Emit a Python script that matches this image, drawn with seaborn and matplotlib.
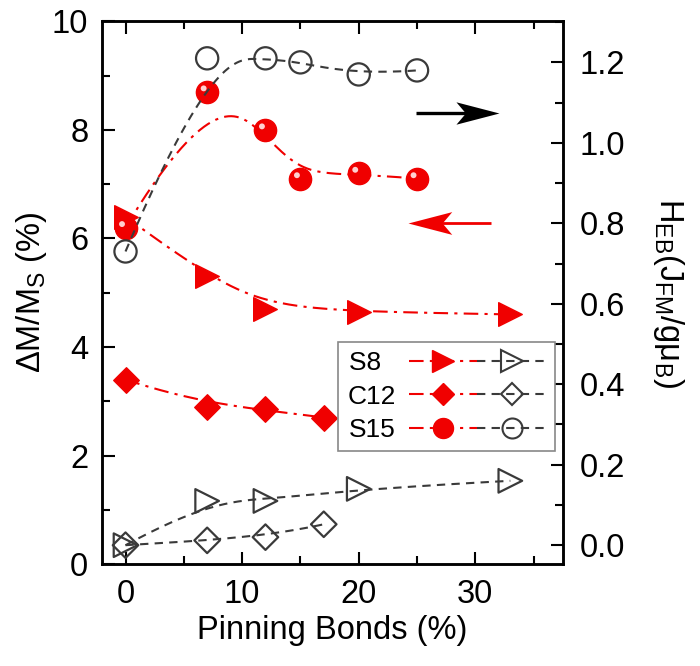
import numpy as np
import pandas as pd
import matplotlib
matplotlib.use("Agg")
import matplotlib.pyplot as plt
import matplotlib.transforms as mtransforms
from matplotlib.lines import Line2D
from matplotlib.path import Path
from matplotlib.legend_handler import HandlerTuple
from matplotlib.ticker import MultipleLocator
import seaborn as sns

# ---- data -------------------------------------------------------------
series_names = ["S8", "C12", "S15"]

s8_x = [0, 7, 12, 20, 33]
s8_dm = [6.4, 5.3, 4.7, 4.65, 4.6]
s8_heb = [0.0, 0.11, 0.11, 0.14, 0.16]

c12_x = [0, 7, 12, 17]
c12_dm = [3.4, 2.9, 2.85, 2.7]
c12_heb = [0.0, 0.012, 0.02, 0.052]

s15_x = [0, 7, 12, 15, 20, 25]
s15_dm = [6.2, 8.7, 8.0, 7.1, 7.2, 7.1]
s15_heb = [0.73, 1.21, 1.21, 1.20, 1.17, 1.18]

x_ticks = [0, 10, 20, 30]
left_ticks = [0, 2, 4, 6, 8, 10]
right_ticks = [0.0, 0.2, 0.4, 0.6, 0.8, 1.0, 1.2]

RED = "#f00000"
DARK = "#3a3a3a"
FS = 23.5

sns.set_theme(style="ticks")
plt.rcParams["font.family"] = ["Liberation Sans", "DejaVu Sans"]
plt.rcParams["mathtext.fontset"] = "custom"
plt.rcParams["mathtext.rm"] = "Liberation Sans"
for key in ("text.color", "axes.labelcolor", "xtick.color", "ytick.color",
            "axes.edgecolor"):
    plt.rcParams[key] = "black"


def bspline(xs, ys, degree=3, num=300):
    """Clamped B-spline curve using the data points as control points."""
    pts = np.column_stack([xs, ys]).astype(float)
    n = len(pts)
    p = min(degree, n - 1)
    knots = np.concatenate([np.zeros(p), np.linspace(0, 1, n - p + 1), np.ones(p)])
    t = np.linspace(0, 1, num)
    nb = len(knots) - 1
    N = np.zeros((num, nb))
    for i in range(nb):
        if knots[i] < knots[i + 1]:
            N[:, i] = (t >= knots[i]) & (t < knots[i + 1])
    last = max(i for i in range(nb) if knots[i] < knots[i + 1])
    N[t >= 1, last] = 1.0
    for d in range(1, p + 1):
        Nn = np.zeros((num, nb - d))
        for i in range(nb - d):
            a = knots[i + d] - knots[i]
            b = knots[i + d + 1] - knots[i + 1]
            term = np.zeros(num)
            if a > 0:
                term += (t - knots[i]) / a * N[:, i]
            if b > 0:
                term += (knots[i + d + 1] - t) / b * N[:, i + 1]
            Nn[:, i] = term
        N = Nn
    curve = N @ pts
    return pd.DataFrame({"x": curve[:, 0], "y": curve[:, 1]})


def stealth_head(direction):
    """Swept arrow head as a marker path with its tip at the origin."""
    s = 1 if direction == "right" else -1
    verts = [(0, 0), (-s, 0.26), (-0.78 * s, 0), (-s, -0.26), (0, 0)]
    codes = [Path.MOVETO, Path.LINETO, Path.LINETO, Path.LINETO, Path.CLOSEPOLY]
    return Path(verts, codes)


fig = plt.figure(figsize=(7.0, 6.66), dpi=100)
ax = fig.add_axes([0.146, 0.153, 0.658, 0.815])
ax2 = ax.twinx()

left_sets = [
    (s8_x, s8_dm, ">", 17),
    (c12_x, c12_dm, "D", 13),
    (s15_x, s15_dm, "o", 16),
]
right_sets = [
    (s8_x, s8_heb, ">", 17),
    (c12_x, c12_heb, "D", 13),
    (s15_x, s15_heb, "o", 16),
]

# red curves and filled markers (left axis)
for xs, ys, mk, ms in left_sets:
    curve = bspline(xs, ys)
    sns.lineplot(data=curve, x="x", y="y", ax=ax, sort=False, estimator=None,
                 color=RED, lw=1.5, linestyle=(0, (7, 3, 1.5, 3)), zorder=2)
    df = pd.DataFrame({"x": xs, "y": ys})
    sns.scatterplot(data=df, x="x", y="y", ax=ax, marker=mk, s=ms ** 2,
                    color=RED, edgecolor=RED, linewidth=1, zorder=3)

# glossy highlight on the sphere markers
hl = mtransforms.offset_copy(ax.transData, fig=fig, x=-3.5, y=3.5, units="dots")
ax.scatter(s15_x, s15_dm, s=18, color="#ffd0d0", edgecolor="none",
           transform=hl, zorder=4)

# black curves and open markers (right axis)
for xs, ys, mk, ms in right_sets:
    curve = bspline(xs, ys)
    sns.lineplot(data=curve, x="x", y="y", ax=ax2, sort=False, estimator=None,
                 color=DARK, lw=1.5, linestyle=(0, (4, 3)), zorder=2)
    df = pd.DataFrame({"x": xs, "y": ys})
    sns.scatterplot(data=df, x="x", y="y", ax=ax2, marker=mk, s=ms ** 2,
                    facecolor="none", edgecolor=DARK, linewidth=1.6, zorder=3)

# axes ranges and ticks
ax.set_xlim(-2, 37.5)
ax.set_ylim(0, 10)
ax2.set_ylim(-0.047, 1.302)
ax.set_xticks(x_ticks)
ax.set_yticks(left_ticks)
ax2.set_yticks(right_ticks)
ax.set_yticklabels([str(v) for v in left_ticks])
ax2.set_yticklabels([f"{v:.1f}" for v in right_ticks])
ax.xaxis.set_minor_locator(MultipleLocator(5))
ax.yaxis.set_minor_locator(MultipleLocator(1))
ax2.yaxis.set_minor_locator(MultipleLocator(0.1))

ax.tick_params(axis="x", which="both", direction="in", top=True, bottom=True,
               labelsize=FS, pad=11)
ax.tick_params(axis="y", which="both", direction="in", left=True, right=False,
               labelsize=FS, pad=10)
ax2.tick_params(axis="y", which="both", direction="in", right=True, left=False,
                labelsize=FS, pad=12)
for a in (ax, ax2):
    a.tick_params(which="major", length=9, width=1.5)
    a.tick_params(which="minor", length=6, width=1.5)
    for sp in a.spines.values():
        sp.set_visible(True)
        sp.set_linewidth(1.8)
        sp.set_color("black")

ax.set_xlabel("Pinning Bonds (%)", fontsize=FS, labelpad=3)
ax.set_ylabel("ΔM/M$_\\mathregular{S}$ (%)", fontsize=FS, labelpad=2)
ax2.set_ylabel("H$_\\mathregular{EB}$(J$_\\mathregular{FM}$/gμ$_\\mathregular{B}$)",
               fontsize=FS, rotation=270, labelpad=44)

# direction arrows: shaft plus swept head
ax.plot([24.9, 30.5], [8.31, 8.31], color="black", lw=2.4,
        solid_capstyle="butt", zorder=5)
ax.plot([32.05], [8.31], marker=stealth_head("right"), markersize=62,
        color="black", markeredgewidth=0, zorder=5)
ax.plot([25.8, 31.36], [6.29, 6.29], color=RED, lw=2.0,
        solid_capstyle="butt", zorder=5)
ax.plot([24.25], [6.29], marker=stealth_head("left"), markersize=63,
        color=RED, markeredgewidth=0, zorder=5)

# legend: each row pairs the red (left) and black (right) style
handles = []
for _, _, mk, ms in left_sets:
    red = Line2D([], [], color=RED, lw=1.5, linestyle=(0, (7, 3, 1.5, 3)),
                 marker=mk, markersize=ms * 0.9, markerfacecolor=RED,
                 markeredgecolor=RED)
    blk = Line2D([], [], color=DARK, lw=1.5, linestyle=(0, (4, 3)),
                 marker=mk, markersize=ms * 0.9, markerfacecolor="none",
                 markeredgecolor=DARK, markeredgewidth=1.5)
    handles.append((red, blk))

# pad the short label with a figure space so the names line up on the left
legend_labels = [name.ljust(3, "\u2007") for name in series_names]
leg = ax2.legend(handles, legend_labels,
                 handler_map={tuple: HandlerTuple(ndivide=None, pad=0.0)},
                 loc="upper left", bbox_to_anchor=(0.512, 0.409), borderaxespad=0,
                 fontsize=19, handlelength=5.2, handletextpad=0.5, labelspacing=0.35,
                 markerfirst=False, fancybox=False, framealpha=1, edgecolor="#888888",
                 borderpad=0.35, numpoints=1)
leg.get_frame().set_linewidth(1.2)
leg.set_zorder(10)

fig.savefig("out.png", dpi=100)
